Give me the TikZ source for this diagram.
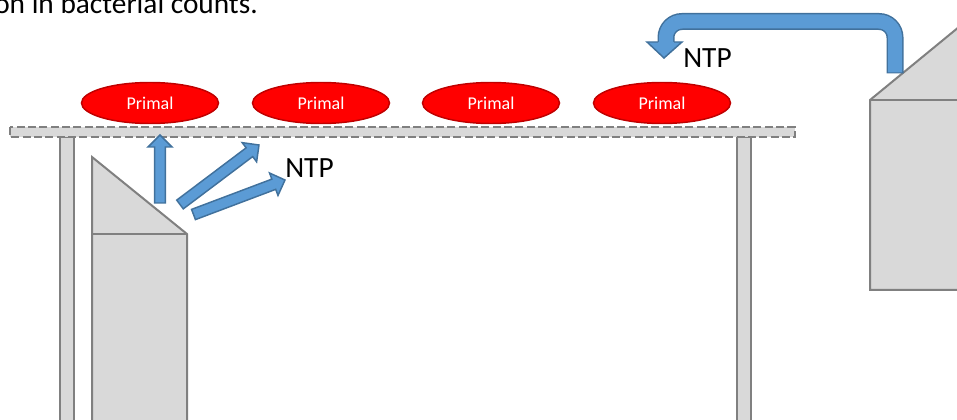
\documentclass[tikz,border=0pt]{standalone}
\usepackage{fontspec}
\setmainfont{Carlito}
\usetikzlibrary{calc}
\usetikzlibrary{shapes.geometric}

\definecolor{boxgray}{RGB}{217,217,217}
\definecolor{edgegray}{RGB}{128,128,128}
\definecolor{jetblue}{RGB}{91,155,213}
\definecolor{jetedge}{RGB}{65,113,156}
\definecolor{primalred}{RGB}{255,0,0}
\definecolor{primaledge}{RGB}{192,0,0}

\tikzset{
  machine/.style={draw=edgegray, fill=boxgray, line width=1.5pt},
  primal/.style={ellipse, draw=primaledge, fill=primalred, line width=1.1pt, minimum width=102.75pt, minimum height=30.75pt, inner sep=0pt, text=white, font=\fontsize{13.5}{16}\selectfont},
  jet/.style={draw=jetedge, fill=jetblue, line width=1.1pt},
  ntp/.style={anchor=base west, inner sep=0pt, font=\fontsize{22}{26}\selectfont},
}

% block arrow from tail #1 to tip #2
\newcommand{\jetarrow}[2]{%
  \coordinate (#2-b) at ($(#2)!9pt!(#1)$);
  \draw[jet] ($(#1)!4.1pt!90:(#2)$) -- ($(#2-b)!4.1pt!90:(#2)$) -- ($(#2-b)!9pt!90:(#2)$) -- (#2) -- ($(#2-b)!9pt!-90:(#2)$) -- ($(#2-b)!4.1pt!-90:(#2)$) -- ($(#1)!4.1pt!-90:(#2)$) -- cycle;}

\begin{document}
\begin{tikzpicture}[x=0.75pt,y=0.75pt,yscale=-1,xscale=1]
\clip (0,0) rectangle (957,420);

%Shape: Rectangle [left leg]
\draw[machine] (60,137) rectangle (74,430);
%Shape: Rectangle [right leg]
\draw[machine] (737,137) rectangle (751,430);
%Shape: Rectangle [table top]
\draw[fill=boxgray, draw=edgegray, line width=1.5pt, dash pattern=on 6pt off 2.5pt] (10,127) rectangle (795,137);

%Shape: Polygon [left machine]
\draw[machine] (92,157) -- (187,234) -- (187,430) -- (92,430) -- cycle;
\draw[machine] (92,234) -- (187,234);
%Shape: Polygon [right machine]
\draw[machine] (870,100) -- (965,22) -- (965,290) -- (870,290) -- cycle;
\draw[machine] (870,100) -- (965,100);

%Shape: Ellipse
\node[primal] (primal-1) at (150,103) {Primal};
%Shape: Ellipse
\node[primal] (primal-2) at (321,103) {Primal};
%Shape: Ellipse
\node[primal] (primal-3) at (491,103) {Primal};
%Shape: Ellipse
\node[primal] (primal-4) at (662,103) {Primal};

% Connection
\coordinate (up-s) at (160,203);
\coordinate (up-e) at (160,135);
\jetarrow{up-s}{up-e}
% Connection
\coordinate (mid-s) at (180,204.5);
\coordinate (mid-e) at (259,145);
\jetarrow{mid-s}{mid-e}
% Connection
\coordinate (low-s) at (193.5,214.5);
\coordinate (low-e) at (285,180);
\jetarrow{low-s}{low-e}

% Connection [return arrow]
\draw[draw=jetedge, line width=12.75pt, rounded corners=12pt] (895,73.5) -- (895,21.5) -- (666,21.5) -- (666,44);
\draw[draw=jetblue, line width=10.5pt, rounded corners=12pt] (895,72.5) -- (895,21.5) -- (666,21.5) -- (666,44);
\fill[jetblue] (647,42) -- (664,58) -- (682,42) -- cycle;
\draw[jetedge, line width=1.1pt] (658,42) -- (647,42) -- (664,58) -- (682,42) -- (674,42);

% Text Node
\node[ntp] (caption) at (-6,14) {on in bacterial counts.};
% Text Node
\node[ntp] (ntp-a) at (285,178) {NTP};
% Text Node
\node[ntp] (ntp-b) at (683,68) {NTP};

\end{tikzpicture}
\end{document}
